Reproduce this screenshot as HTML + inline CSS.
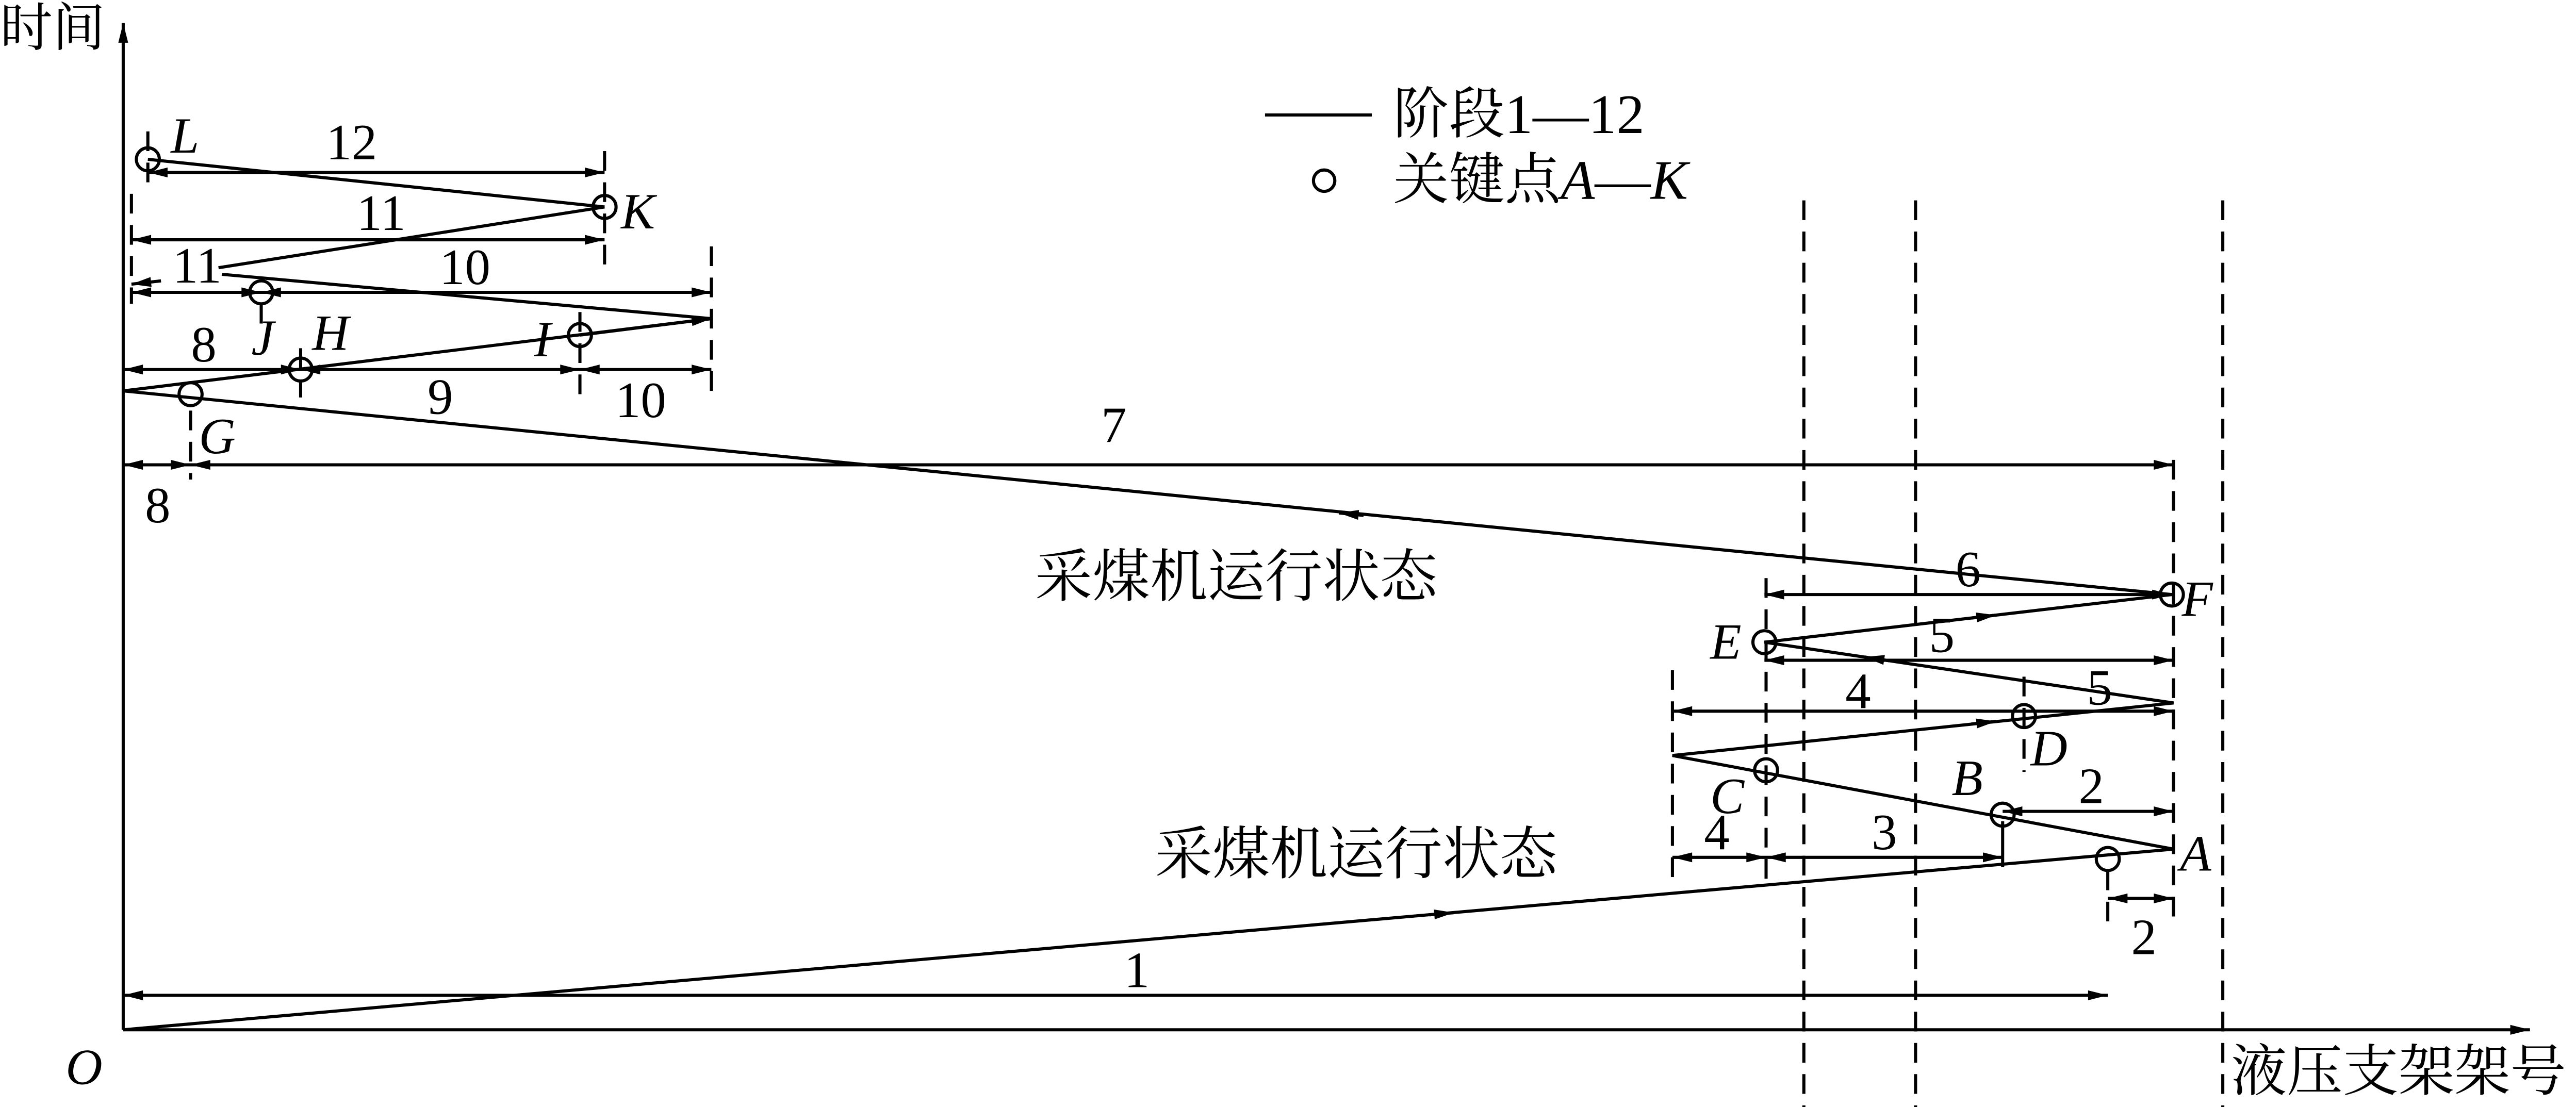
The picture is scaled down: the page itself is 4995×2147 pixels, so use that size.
<!DOCTYPE html>
<html><head><meta charset="utf-8"><style>html,body{margin:0;padding:0;background:#fff}svg{display:block}</style></head><body>
<svg width="4995" height="2147" viewBox="0 0 1568 674" preserveAspectRatio="none" xmlns="http://www.w3.org/2000/svg" font-family="'Liberation Serif','Noto Serif CJK SC',serif" font-size="31">
<defs>
<marker id="a" viewBox="0 0 12 6" refX="12" refY="3" markerWidth="13" markerHeight="6" markerUnits="userSpaceOnUse" orient="auto-start-reverse"><path d="M0,0L12,3L0,6z" fill="#000"/></marker>
</defs>
<g stroke="#000" stroke-width="1.9" fill="none">
<line x1="75" y1="627" x2="75" y2="14" marker-end="url(#a)"/>
<line x1="75" y1="627" x2="1540" y2="627" marker-end="url(#a)"/>
<g stroke-dasharray="12,7">
<line x1="1098" y1="122" x2="1098" y2="674"/><line x1="1166" y1="122" x2="1166" y2="674"/><line x1="1353" y1="122" x2="1353" y2="674"/>
<line x1="1323" y1="280" x2="1323" y2="565"/><line x1="433" y1="150" x2="433" y2="242"/><line x1="368" y1="92" x2="368" y2="165"/>
<line x1="90" y1="80" x2="90" y2="112"/><line x1="80" y1="118" x2="80" y2="185"/><line x1="1018" y1="408" x2="1018" y2="535"/>
<line x1="1075" y1="352" x2="1075" y2="535"/><line x1="1232" y1="412" x2="1232" y2="470"/><line x1="1283" y1="530" x2="1283" y2="566"/>
<line x1="159" y1="185" x2="159" y2="200"/><line x1="183" y1="212" x2="183" y2="242"/><line x1="353" y1="190" x2="353" y2="242"/><line x1="116" y1="250" x2="116" y2="292"/>
</g>
<line x1="1219" y1="500" x2="1219" y2="528"/>
<polyline points="75,627 1323,517 1018,460 1323,428 1074,391 1322,362 75,238 433,194"/>
<line x1="353" y1="204" x2="433" y2="194" marker-end="url(#a)"/>
<line x1="433" y1="194" x2="135" y2="167"/>
<line x1="98" y1="171" x2="80" y2="173" marker-end="url(#a)"/>
<line x1="133" y1="163" x2="368" y2="126"/>
<polyline points="368,126 90,97"/>
<line x1="870" y1="557" x2="885" y2="555.7" marker-end="url(#a)"/>
<line x1="1150" y1="402.3" x2="1135" y2="400" marker-end="url(#a)"/>
<line x1="1200" y1="376.3" x2="1215" y2="374.5" marker-end="url(#a)"/>
<line x1="830" y1="313.8" x2="815" y2="312.3" marker-end="url(#a)"/>
<line x1="1200" y1="440.8" x2="1215" y2="439.2" marker-end="url(#a)"/>
<g marker-start="url(#a)" marker-end="url(#a)">
<line x1="90" y1="105" x2="368" y2="105"/>
<line x1="80" y1="146" x2="368" y2="146"/>
<line x1="80" y1="178" x2="159" y2="178"/>
<line x1="159" y1="178" x2="433" y2="178"/>
<line x1="75" y1="225" x2="183" y2="225"/>
<line x1="183" y1="225" x2="353" y2="225"/>
<line x1="353" y1="225" x2="433" y2="225"/>
<line x1="75" y1="283" x2="116" y2="283"/>
<line x1="116" y1="283" x2="1323" y2="283"/>
<line x1="1074" y1="362" x2="1322" y2="362"/>
<line x1="1074" y1="402" x2="1323" y2="402"/>
<line x1="1018" y1="433" x2="1323" y2="433"/>
<line x1="1219" y1="494" x2="1323" y2="494"/>
<line x1="1018" y1="522" x2="1075" y2="522"/>
<line x1="1075" y1="522" x2="1219" y2="522"/>
<line x1="1283" y1="547" x2="1323" y2="547"/>
<line x1="75" y1="606" x2="1283" y2="606"/>
</g>
<g fill="none">
<circle cx="1219" cy="496" r="7"/><circle cx="1075" cy="469" r="7"/><circle cx="1232" cy="436" r="7"/><circle cx="1074" cy="391" r="7"/>
<circle cx="1322" cy="362" r="7"/><circle cx="116" cy="240" r="7"/><circle cx="183" cy="225" r="7"/><circle cx="353" cy="204" r="7"/>
<circle cx="159" cy="178" r="7"/><circle cx="368" cy="126" r="7"/><circle cx="90" cy="97" r="7"/><circle cx="1283" cy="523" r="7"/>
<circle cx="806" cy="110" r="6.5"/>
</g>
<line x1="770" y1="70" x2="835" y2="70"/>
</g>
<g fill="#000" text-anchor="middle">
<text x="214" y="97">12</text><text x="232" y="140">11</text><text x="120" y="172">11</text><text x="283" y="173">10</text>
<text x="124" y="220">8</text><text x="268" y="252">9</text><text x="390" y="254">10</text><text x="96" y="318">8</text>
<text x="678" y="269">7</text><text x="1198" y="357">6</text><text x="1182" y="397">5</text><text x="1278" y="429">5</text>
<text x="1131" y="431">4</text><text x="1273" y="489">2</text><text x="1045" y="517">4</text><text x="1147" y="517">3</text>
<text x="1305" y="581">2</text><text x="692" y="601">1</text>
</g>
<g fill="#000" font-style="italic">
<text x="104" y="93">L</text><text x="378" y="139">K</text><text x="153" y="216">J</text><text x="190" y="213">H</text>
<text x="325" y="217">I</text><text x="121" y="276">G</text><text x="1328" y="375">F</text><text x="1041" y="401">E</text>
<text x="1236" y="466">D</text><text x="1041" y="495">C</text><text x="1188" y="484">B</text><text x="1327" y="530">A</text>
<text x="40" y="660">O</text>
</g>
<g fill="#000" font-family="'Liberation Serif','Noto Serif CJK SC',serif" font-size="34">
<text x="0" y="28" font-size="32">时间</text>
<text x="1358" y="664">液压支架架号</text>
<text x="630" y="363" font-size="35">采煤机运行状态</text>
<text x="703" y="532" font-size="35">采煤机运行状态</text>
<text x="848" y="81">阶段1—12</text>
<text x="848" y="121">关键点<tspan font-style="italic">A</tspan>—<tspan font-style="italic">K</tspan></text>
</g>
</svg>
</body></html>
